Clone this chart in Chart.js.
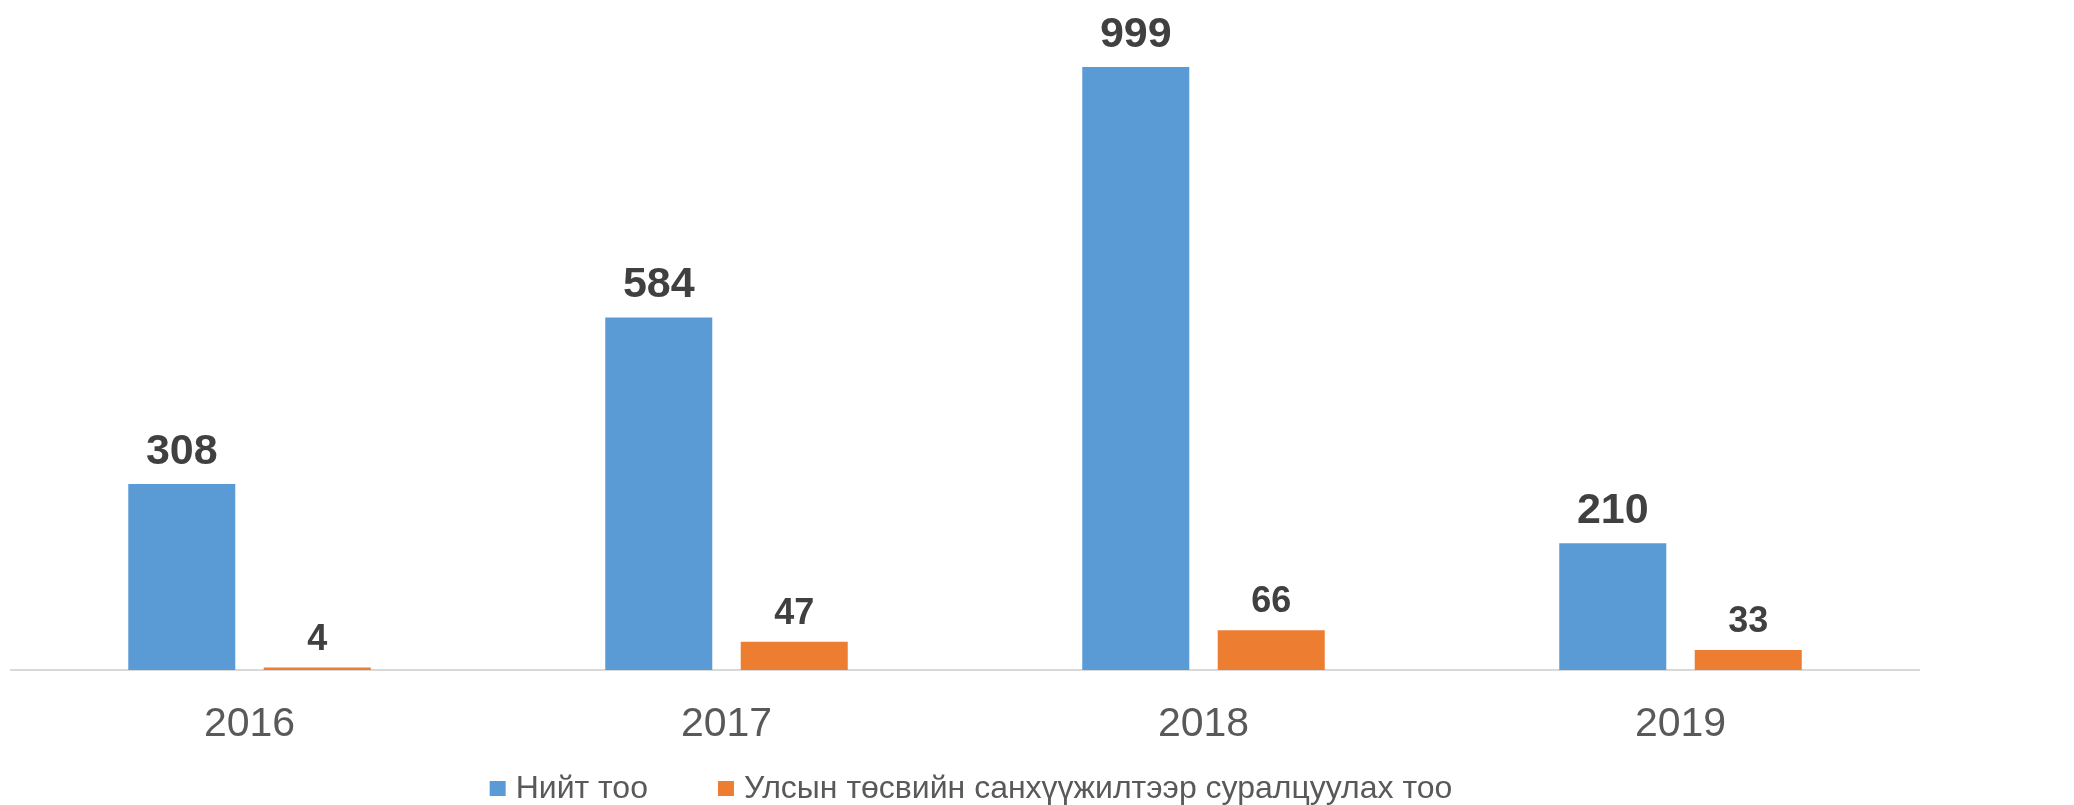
<!DOCTYPE html>
<html>
<head>
<meta charset="utf-8">
<script src="https://cdn.jsdelivr.net/npm/chart.js@4.4.1/dist/chart.umd.min.js"></script>
<style>
  html, body { margin: 0; padding: 0; background: #ffffff; }
  #wrap { width: 2074px; height: 805px; position: relative; }
</style>
</head>
<body>
<div id="wrap"><canvas id="c" width="2074" height="805"></canvas></div>
<script>
const categories = ['2016', '2017', '2018', '2019'];
const seriesNames = ['Нийт тоо', 'Улсын төсвийн санхүүжилтээр суралцуулах тоо'];
const totalValues = [308, 584, 999, 210];
const stateFundedValues = [4, 47, 66, 33];
const seriesColors = ['#5B9BD5', '#ED7D31'];

const FONT = 'Arial, "Liberation Sans", sans-serif';

const valueLabels = {
  id: 'valueLabels',
  afterDatasetsDraw(chart) {
    const ctx = chart.ctx;
    ctx.save();
    ctx.fillStyle = '#404040';
    ctx.textAlign = 'center';
    ctx.textBaseline = 'alphabetic';
    chart.data.datasets.forEach((ds, i) => {
      const meta = chart.getDatasetMeta(i);
      const size = i === 0 ? 43 : 36;
      const gap = i === 0 ? 20 : 18;
      ctx.font = 'bold ' + size + 'px ' + FONT;
      meta.data.forEach((el, j) => {
        ctx.fillText(String(ds.data[j]), el.x, el.y - gap);
      });
    });
    ctx.restore();
  }
};

const customLegend = {
  id: 'customLegend',
  afterDraw(chart) {
    const ctx = chart.ctx;
    ctx.save();
    ctx.font = '32px ' + FONT;
    ctx.textBaseline = 'alphabetic';
    ctx.textAlign = 'left';
    const box = 16, boxH = 15, gapText = 10, gapItem = 70;
    const items = chart.data.datasets.map(ds => ({
      label: ds.label, color: ds.backgroundColor, w: ctx.measureText(ds.label).width
    }));
    let total = 0;
    items.forEach((it, k) => { total += box + gapText + it.w + (k < items.length - 1 ? gapItem : 0); });
    let x = 971 - total / 2;
    const baseline = 798;
    items.forEach(it => {
      ctx.fillStyle = it.color;
      ctx.fillRect(x, 781, box, boxH);
      x += box + gapText;
      ctx.fillStyle = '#595959';
      ctx.fillText(it.label, x, baseline);
      x += it.w + gapItem;
    });
    ctx.restore();
  }
};

new Chart(document.getElementById('c'), {
  type: 'bar',
  data: {
    labels: categories,
    datasets: [
      { label: seriesNames[0], data: totalValues, backgroundColor: seriesColors[0],
        categoryPercentage: 0.568, barPercentage: 0.79 },
      { label: seriesNames[1], data: stateFundedValues, backgroundColor: seriesColors[1],
        categoryPercentage: 0.568, barPercentage: 0.79 }
    ]
  },
  options: {
    responsive: false,
    animation: false,
    devicePixelRatio: 1,
    layout: { padding: { left: 11, right: 155, top: 0, bottom: 0 } },
    plugins: {
      legend: { display: false },
      tooltip: { enabled: false },
      title: { display: false }
    },
    scales: {
      x: {
        grid: { display: false, drawTicks: false },
        border: { display: true, color: '#d9d9d9', width: 2 },
        ticks: { color: '#595959', font: { family: FONT, size: 41 }, padding: 30, maxRotation: 0 },
        afterFit(scale) { scale.height = 135; }
      },
      y: {
        display: false,
        min: 0,
        max: 1110
      }
    }
  },
  plugins: [valueLabels, customLegend]
});
</script>
</body>
</html>
